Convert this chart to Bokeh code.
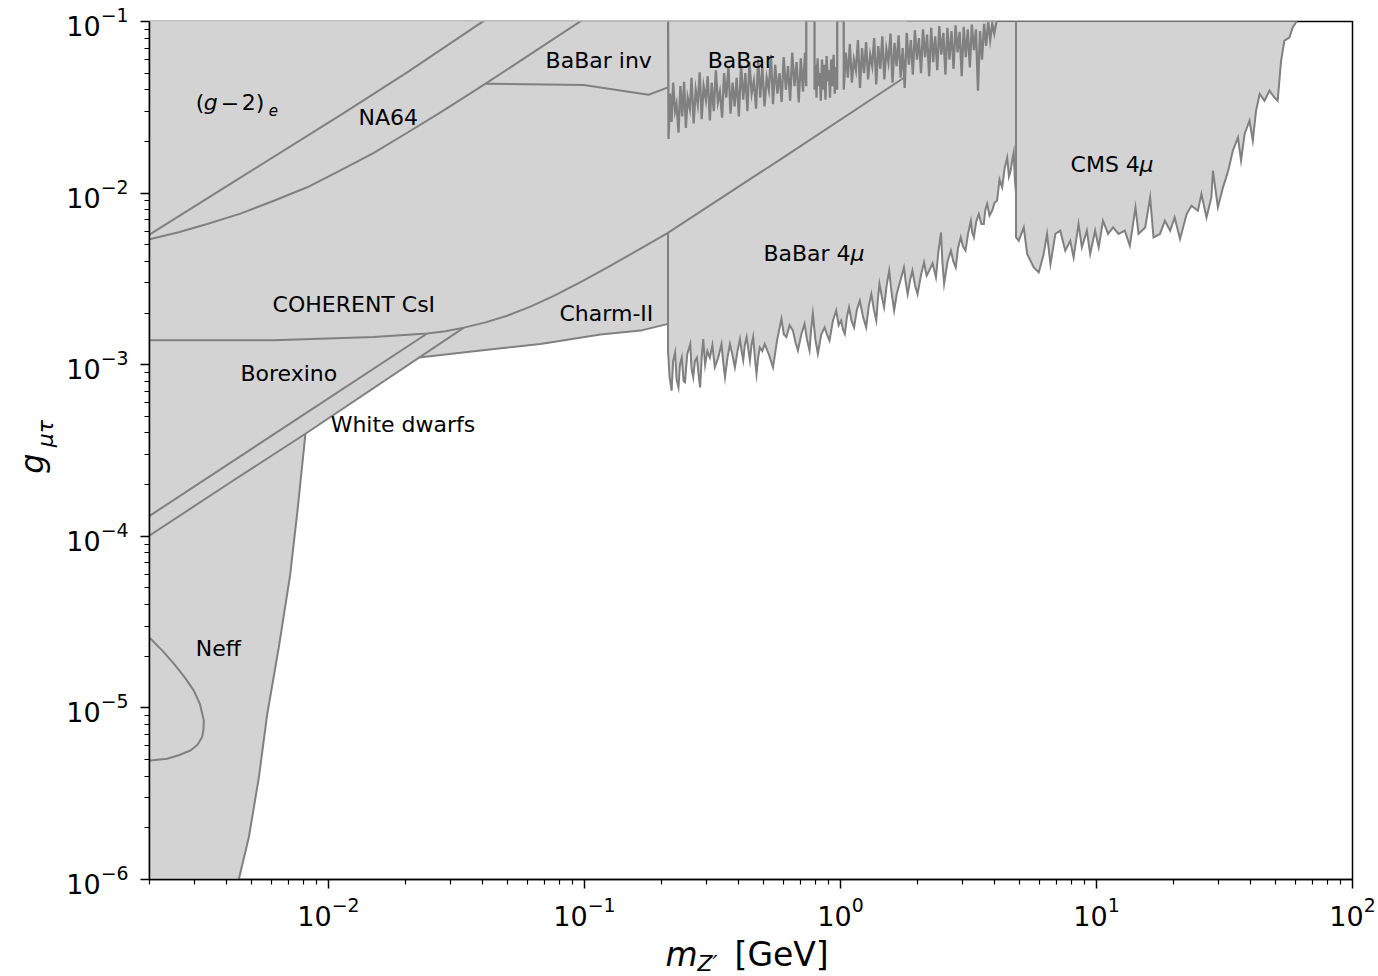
from math import pi
from bokeh.plotting import figure
from bokeh.layouts import row, column
from bokeh.models import FixedTicker, LogTickFormatter
from bokeh.embed import file_html
from bokeh.resources import INLINE
from bokeh.core.properties import value

# ---------------------------------------------------------------- data
# boundary curves: mass m_Z' [GeV] and coupling g_{mu tau}
g2e_m = [0.0019, 0.00202, 0.00453, 0.01114, 0.0203, 0.0399, 0.045]
g2e_g = [5.45e-3, 5.78e-3, 1.23e-2, 2.85e-2, 5.05e-2, 0.0996, 0.112]

na64_m = [0.0019, 0.00202, 0.0026, 0.00336, 0.00453, 0.00612, 0.00826, 0.01114, 0.01504,
          0.0203, 0.0274, 0.0370, 0.0411, 0.0635, 0.098, 0.11]
na64_g = [5.27e-3, 5.40e-3, 5.92e-3, 6.61e-3, 7.59e-3, 9.03e-3, 1.081e-2, 1.358e-2, 1.716e-2,
          2.247e-2, 2.954e-2, 3.93e-2, 4.34e-2, 6.65e-2, 0.1018, 0.113]

babar_inv_m = [0.0411, 0.0994, 0.178, 0.212]
babar_inv_g = [0.0434, 0.0426, 0.0374, 0.0413]

coherent_m = [0.0019, 0.0061, 0.0150, 0.0243, 0.02864, 0.0338, 0.0411, 0.0499, 0.0615, 0.0759,
              0.0978, 0.126, 0.163, 0.211, 0.583, 1.80]
coherent_g = [1.39e-3, 1.39e-3, 1.45e-3, 1.52e-3, 1.566e-3, 1.645e-3, 1.765e-3, 1.93e-3, 2.18e-3,
              2.52e-3, 3.06e-3, 3.77e-3, 4.68e-3, 5.85e-3, 1.574e-2, 4.78e-2]

charm_m = [0.02255, 0.0393, 0.0673, 0.1155, 0.1656, 0.212]
charm_g = [1.10e-3, 1.21e-3, 1.32e-3, 1.50e-3, 1.58e-3, 1.73e-3]

borexino_m = [0.0019, 0.0075, 0.0243]
borexino_g = [1.25e-4, 4.80e-4, 1.52e-3]

wd_diag_m = [0.0019, 0.00422, 0.00813, 0.0338]
wd_diag_g = [9.6e-5, 2.10e-4, 3.96e-4, 1.645e-3]
wd_edge_m = [0.00813, 0.00757, 0.00708, 0.00640, 0.00577, 0.00535, 0.00489, 0.00447, 0.00435]
wd_edge_g = [3.96e-4, 1.41e-4, 5.90e-5, 2.26e-5, 9.25e-6, 3.95e-6, 1.77e-6, 1.01e-6, 8.5e-7]

neff_m = [0.0019, 0.00202, 0.00225, 0.00249, 0.00275, 0.00298, 0.00315, 0.00326, 0.00325,
          0.00321, 0.00308, 0.00289, 0.00260, 0.00234, 0.00202, 0.0019]
neff_g = [2.6e-5, 2.53e-5, 2.15e-5, 1.81e-5, 1.50e-5, 1.26e-5, 1.05e-5, 8.45e-6, 7.5e-6,
          6.76e-6, 6.1e-6, 5.65e-6, 5.3e-6, 5.06e-6, 4.94e-6, 4.92e-6]

babar_pts = [
    (0.212, 0.12),
    (0.213, 0.0207), (0.216, 0.0380), (0.219, 0.0260), (0.222, 0.0440), (0.226, 0.0300),
    (0.229, 0.0330), (0.233, 0.0225), (0.237, 0.0420), (0.241, 0.0280), (0.245, 0.0445),
    (0.249, 0.0240), (0.253, 0.0360), (0.258, 0.0310), (0.262, 0.0470), (0.267, 0.0255),
    (0.272, 0.0400), (0.277, 0.0330), (0.282, 0.0505), (0.287, 0.0270), (0.292, 0.0420),
    (0.298, 0.0350), (0.303, 0.0480), (0.309, 0.0265), (0.314, 0.0440), (0.320, 0.0300),
    (0.326, 0.0520), (0.332, 0.0340), (0.338, 0.0390), (0.345, 0.0275), (0.351, 0.0500),
    (0.358, 0.0360), (0.365, 0.0545), (0.372, 0.0290), (0.379, 0.0440), (0.386, 0.0320),
    (0.393, 0.0470), (0.401, 0.0280), (0.409, 0.0560), (0.417, 0.0350), (0.425, 0.0500),
    (0.433, 0.0300), (0.441, 0.0580), (0.450, 0.0380), (0.459, 0.0450), (0.468, 0.0310),
    (0.477, 0.0600), (0.486, 0.0360), (0.495, 0.0540), (0.505, 0.0320), (0.515, 0.0470),
    (0.525, 0.0400), (0.535, 0.0640), (0.545, 0.0330), (0.556, 0.0560), (0.567, 0.0380),
    (0.578, 0.0500), (0.589, 0.0340), (0.600, 0.0620), (0.612, 0.0400), (0.624, 0.0550),
    (0.636, 0.0345), (0.648, 0.0660), (0.661, 0.0420), (0.674, 0.0580), (0.687, 0.0337),
    (0.700, 0.0610), (0.714, 0.0390), (0.727, 0.0660), (0.735, 0.0420),
    (0.735, 0.12), (0.792, 0.12),
    (0.792, 0.0400), (0.799, 0.0560), (0.806, 0.0360), (0.814, 0.0610), (0.822, 0.0420),
    (0.830, 0.0500), (0.838, 0.0345), (0.847, 0.0600), (0.856, 0.0400), (0.865, 0.0560),
    (0.874, 0.0350), (0.883, 0.0630), (0.892, 0.0450), (0.901, 0.0520), (0.910, 0.0360),
    (0.920, 0.0600), (0.930, 0.0420), (0.940, 0.0640), (0.950, 0.0380), (0.960, 0.0540),
    (0.971, 0.0400),
    (0.971, 0.12), (1.030, 0.12),
    (1.030, 0.040), (1.049, 0.066), (1.068, 0.047), (1.088, 0.074), (1.108, 0.044),
    (1.128, 0.060), (1.149, 0.052), (1.170, 0.078), (1.192, 0.041), (1.214, 0.070),
    (1.236, 0.050), (1.259, 0.076), (1.282, 0.046), (1.306, 0.064), (1.330, 0.055),
    (1.354, 0.080), (1.379, 0.043), (1.405, 0.072), (1.431, 0.053), (1.457, 0.082),
    (1.484, 0.046), (1.511, 0.069), (1.539, 0.058), (1.568, 0.085), (1.597, 0.044),
    (1.626, 0.075), (1.656, 0.055), (1.687, 0.083), (1.718, 0.047), (1.750, 0.070),
    (1.782, 0.041), (1.815, 0.086), (1.849, 0.056), (1.883, 0.078), (1.917, 0.049),
    (1.953, 0.089), (1.989, 0.060), (2.025, 0.080), (2.063, 0.050), (2.101, 0.090),
    (2.140, 0.062), (2.179, 0.084), (2.220, 0.048), (2.261, 0.092), (2.302, 0.058),
    (2.345, 0.082), (2.388, 0.052), (2.432, 0.094), (2.477, 0.064), (2.523, 0.086),
    (2.570, 0.049), (2.617, 0.092), (2.665, 0.060), (2.715, 0.088), (2.765, 0.053),
    (2.816, 0.095), (2.868, 0.066), (2.921, 0.087), (2.975, 0.048), (3.030, 0.093),
    (3.086, 0.062), (3.143, 0.090), (3.201, 0.054), (3.260, 0.096), (3.320, 0.068),
    (3.382, 0.090), (3.444, 0.0395), (3.508, 0.088), (3.573, 0.060), (3.639, 0.097),
    (3.706, 0.072), (3.775, 0.099), (3.844, 0.078), (3.916, 0.097), (3.988, 0.085),
    (4.062, 0.099), (4.17, 0.12),
]

babar4mu_pts = [
    (0.212, 5.9e-3), (0.212, 1.21e-3), (0.215, 8.5e-4), (0.219, 7.06e-4), (0.222, 1.05e-3),
    (0.226, 1.18e-3), (0.229, 8.2e-4), (0.233, 7.38e-4), (0.236, 1.0e-3), (0.240, 1.10e-3),
    (0.244, 8.0e-4), (0.247, 7.89e-4), (0.252, 1.15e-3), (0.259, 1.32e-3), (0.262, 9.5e-4),
    (0.266, 8.45e-4), (0.270, 1.05e-3), (0.275, 1.10e-3), (0.279, 8.8e-4), (0.283, 7.38e-4),
    (0.287, 1.1e-3), (0.291, 1.41e-3), (0.296, 1.0e-3), (0.302, 1.2e-3), (0.309, 1.10e-3),
    (0.316, 1.3e-3), (0.323, 9.66e-4), (0.333, 1.1e-3), (0.343, 1.32e-3), (0.348, 1.05e-3),
    (0.354, 8.45e-4), (0.362, 1.1e-3), (0.370, 1.32e-3), (0.378, 1.15e-3), (0.387, 9.66e-4),
    (0.396, 1.2e-3), (0.405, 1.41e-3), (0.411, 1.2e-3), (0.417, 1.06e-3), (0.423, 1.3e-3),
    (0.430, 1.45e-3), (0.436, 1.25e-3), (0.443, 1.06e-3), (0.449, 1.3e-3), (0.456, 1.45e-3),
    (0.463, 1.1e-3), (0.470, 8.83e-4), (0.477, 1.1e-3), (0.484, 1.26e-3), (0.495, 1.2e-3),
    (0.506, 1.32e-3), (0.525, 1.15e-3), (0.545, 9.66e-4), (0.566, 1.4e-3), (0.588, 1.85e-3),
    (0.601, 1.5e-3), (0.615, 1.45e-3), (0.633, 1.7e-3), (0.652, 1.58e-3), (0.667, 1.35e-3),
    (0.682, 1.21e-3), (0.703, 1.5e-3), (0.724, 1.73e-3), (0.740, 1.4e-3), (0.757, 1.21e-3),
    (0.768, 1.6e-3), (0.780, 1.98e-3), (0.798, 1.4e-3), (0.816, 1.16e-3), (0.841, 1.5e-3),
    (0.867, 1.65e-3), (0.886, 1.5e-3), (0.906, 1.38e-3), (0.934, 1.8e-3), (0.962, 2.07e-3),
    (0.984, 1.7e-3), (1.006, 1.81e-3), (1.023, 1.6e-3), (1.04, 1.51e-3), (1.06, 1.9e-3),
    (1.08, 2.16e-3), (1.105, 1.8e-3), (1.13, 1.65e-3), (1.16, 2.1e-3), (1.19, 2.36e-3),
    (1.225, 1.9e-3), (1.26, 1.65e-3), (1.29, 2.2e-3), (1.32, 2.58e-3), (1.35, 2.1e-3),
    (1.38, 1.81e-3), (1.40, 2.4e-3), (1.42, 2.96e-3), (1.45, 2.5e-3), (1.48, 2.16e-3),
    (1.515, 2.9e-3), (1.55, 3.53e-3), (1.585, 2.6e-3), (1.62, 2.07e-3), (1.66, 2.6e-3),
    (1.70, 2.96e-3), (1.735, 3.3e-3), (1.77, 3.69e-3), (1.80, 3.0e-3), (1.83, 2.58e-3),
    (1.87, 3.1e-3), (1.91, 3.53e-3), (1.955, 2.9e-3), (2.00, 2.58e-3), (2.06, 3.3e-3),
    (2.12, 3.94e-3), (2.17, 3.3e-3), (2.22, 3.53e-3), (2.29, 3.9e-3), (2.36, 3.23e-3),
    (2.41, 4.5e-3), (2.47, 5.90e-3), (2.50, 4.0e-3), (2.54, 2.96e-3), (2.62, 4.0e-3),
    (2.70, 4.62e-3), (2.76, 4.0e-3), (2.82, 3.69e-3), (2.88, 4.8e-3), (2.95, 5.52e-3),
    (3.01, 4.9e-3), (3.08, 4.62e-3), (3.15, 5.8e-3), (3.23, 6.90e-3), (3.27, 5.9e-3),
    (3.32, 5.52e-3), (3.39, 6.8e-3), (3.47, 7.55e-3), (3.55, 6.6e-3), (3.63, 6.61e-3),
    (3.68, 8.0e-3), (3.74, 8.65e-3), (3.82, 7.4e-3), (3.91, 7.89e-3), (4.00, 8.8e-3),
    (4.09, 9.03e-3), (4.18, 1.2e-2), (4.28, 1.08e-2), (4.38, 1.4e-2), (4.48, 1.61e-2),
    (4.55, 1.25e-2), (4.62, 1.35e-2), (4.70, 1.6e-2), (4.75, 1.73e-2), (4.80, 1.2e-2),
    (4.85, 9.88e-3),
]

cms_pts = [
    (4.85, 0.12), (4.85, 5.52e-3), (4.97, 5.28e-3), (5.20, 6.31e-3), (5.36, 4.42e-3),
    (5.69, 3.69e-3), (5.95, 3.45e-3), (6.22, 4.42e-3), (6.41, 5.78e-3), (6.61, 3.86e-3),
    (6.91, 5.78e-3), (7.22, 6.04e-3), (7.55, 4.62e-3), (7.90, 5.28e-3), (8.14, 4.22e-3),
    (8.51, 6.61e-3), (8.77, 4.83e-3), (9.17, 6.04e-3), (9.45, 4.42e-3), (9.88, 6.04e-3),
    (10.2, 4.83e-3), (10.6, 6.90e-3), (11.1, 5.78e-3), (11.6, 6.31e-3), (12.2, 5.78e-3),
    (12.9, 6.04e-3), (13.5, 4.94e-3), (14.2, 8.26e-3), (14.6, 5.78e-3), (15.5, 6.31e-3),
    (16.2, 9.44e-3), (16.7, 5.52e-3), (17.7, 5.78e-3), (18.5, 6.90e-3), (19.4, 6.04e-3),
    (20.2, 7.21e-3), (21.2, 5.40e-3), (22.5, 7.55e-3), (23.5, 8.45e-3), (24.9, 7.89e-3),
    (25.7, 9.88e-3), (26.9, 7.21e-3), (28.1, 9.44e-3), (28.5, 1.35e-2), (29.8, 8.26e-3),
    (31.2, 1.08e-2), (32.7, 1.35e-2), (34.1, 1.77e-2), (35.7, 2.11e-2), (36.7, 1.55e-2),
    (37.9, 2.21e-2), (39.6, 2.64e-2), (40.8, 2.02e-2), (42.0, 3.02e-2), (43.4, 3.78e-2),
    (45.3, 3.45e-2), (47.4, 3.95e-2), (49.5, 3.61e-2), (51.0, 3.45e-2), (52.6, 5.90e-2),
    (54.2, 7.73e-2), (56.7, 8.07e-2), (58.4, 9.23e-2), (60.1, 9.86e-2), (63.8, 0.12),
]

x_ticks = [1e-2, 1e-1, 1e0, 1e1, 1e2]
y_ticks = [1e-6, 1e-5, 1e-4, 1e-3, 1e-2, 1e-1]

# region labels: text, mass, coupling (left edge / vertical centre)
label_text = ["NA64", "BaBar inv", "BaBar", "COHERENT CsI", "Charm-II", "Borexino",
              "White dwarfs", "Neff", "BaBar 4", "CMS 4"]
label_m = [0.0131, 0.0705, 0.303, 0.00605, 0.0799, 0.00453, 0.0102, 0.00303, 0.500, 7.92]
label_g = [0.0277, 0.0590, 0.0590, 2.24e-3, 1.98e-3, 8.87e-4, 4.47e-4, 2.22e-5, 4.43e-3, 1.46e-2]

# ---------------------------------------------------------------- layout constants
W, H = 1378, 976
LEFT_STRIP = 60      # strip holding the y-axis title
BOTTOM_STRIP = 42    # strip holding the x-axis title
BORDER_L = 149 - LEFT_STRIP
BORDER_R = 26
BORDER_T = 21
BORDER_B = (H - BOTTOM_STRIP) - 879
FILL = "#d3d3d3"
EDGE = "#808080"
FONT = "DejaVu Sans"

p = figure(width=W - LEFT_STRIP, height=H - BOTTOM_STRIP, x_axis_type="log", y_axis_type="log",
           x_range=(0.002, 100), y_range=(1e-6, 0.1), title=None,
           output_backend="svg", toolbar_location=None,
           min_border_left=BORDER_L, min_border_right=BORDER_R, min_border_top=BORDER_T,
           min_border_bottom=BORDER_B)
p.xgrid.visible = False
p.ygrid.visible = False
p.background_fill_color = "white"
p.border_fill_color = "white"
p.outline_line_color = "black"
p.outline_line_width = 1.5
p.outline_line_alpha = 1.0


def unzip(pts):
    return [a for a, b in pts], [b for a, b in pts]


babar_m, babar_g = unzip(babar_pts)
babar4mu_m, babar4mu_g = unzip(babar4mu_pts)
cms_m, cms_g = unzip(cms_pts)


def above(m, g, top=1.0):
    return list(m) + [m[-1], m[0]], list(g) + [top, top]


fills = [above(g2e_m, g2e_g), above(na64_m, na64_g), above(babar_inv_m, babar_inv_g),
         above(babar_m, babar_g), above(coherent_m, coherent_g), above(charm_m, charm_g),
         above(borexino_m, borexino_g), above(babar4mu_m, babar4mu_g), above(cms_m, cms_g)]
# white dwarfs: left of the steep edge and above the diagonal
wd_x = [wd_diag_m[0]] + wd_edge_m[::-1] + wd_diag_m[3:] + [wd_diag_m[-1], wd_diag_m[0]]
wd_y = [wd_edge_g[-1]] + wd_edge_g[::-1] + wd_diag_g[3:] + [1.0, 1.0]
fills.append((wd_x, wd_y))
fills.append((neff_m, neff_g))

for fx, fy in fills:
    p.patch(fx, fy, fill_color=FILL, line_color=FILL, line_width=1)

curves = [(g2e_m, g2e_g), (na64_m, na64_g), (babar_inv_m, babar_inv_g), (coherent_m, coherent_g),
          (charm_m, charm_g), (borexino_m, borexino_g), (wd_diag_m, wd_diag_g),
          (wd_edge_m, wd_edge_g), (neff_m, neff_g)]
for cx, cy in curves:
    p.line(cx, cy, line_color=EDGE, line_width=2.0)
for cx, cy in [(babar4mu_m, babar4mu_g), (cms_m, cms_g)]:
    p.line(cx, cy, line_color=EDGE, line_width=2.0, line_join="miter")
p.line(babar_m, babar_g, line_color=EDGE, line_width=2.3, line_join="miter")

# region labels
p.text(x=label_m, y=label_g, text=label_text, text_font=value(FONT), text_font_size="22px",
       text_color="black", text_align="left", text_baseline="middle")
# italic mu after "BaBar 4" and "CMS 4"
p.text(x=[label_m[8], label_m[9]], y=[label_g[8], label_g[9]], text=["μ", "μ"],
       x_offset=[87, 69], text_font=value(FONT), text_font_size="22px", text_font_style="italic",
       text_color="black", text_align="left", text_baseline="middle")
# (g - 2)_e
g2_m, g2_g = 0.00303, 0.0336
p.text(x=[g2_m, g2_m, g2_m], y=[g2_g, g2_g, g2_g], text=["(", "−", "2)"], x_offset=[0, 25, 46],
       text_font=value(FONT), text_font_size="22px", text_color="black",
       text_align="left", text_baseline="middle")
p.text(x=[g2_m], y=[g2_g], text=["g"], x_offset=[8], text_font=value(FONT),
       text_font_size="22px", text_font_style="italic", text_color="black",
       text_align="left", text_baseline="middle")
p.text(x=[g2_m], y=[g2_g], text=["e"], x_offset=[73], y_offset=[7], text_font=value(FONT),
       text_font_size="15px", text_font_style="italic", text_color="black",
       text_align="left", text_baseline="middle")

# axes
p.xaxis.ticker = FixedTicker(ticks=x_ticks,
                             minor_ticks=[k * 10.0 ** e for e in range(-3, 2) for k in range(2, 10)])
p.yaxis.ticker = FixedTicker(ticks=y_ticks,
                             minor_ticks=[k * 10.0 ** e for e in range(-6, -1) for k in range(2, 10)])
for ax in (p.xaxis, p.yaxis):
    ax.formatter = LogTickFormatter()
    ax.axis_line_color = "black"
    ax.axis_line_width = 1.5
    ax.major_tick_line_color = "black"
    ax.major_tick_line_width = 1.5
    ax.minor_tick_line_color = "black"
    ax.minor_tick_line_width = 1.2
    ax.major_tick_in = 0
    ax.major_tick_out = 9
    ax.minor_tick_in = 0
    ax.minor_tick_out = 5
    ax.major_label_text_font = FONT
    ax.major_label_text_font_size = "27px"
    ax.major_label_text_color = "black"
p.xaxis.major_label_standoff = 8
p.yaxis.major_label_standoff = 12


# ---------------------------------------------------------------- axis-title strips
def strip(w, h, **kw):
    s = figure(width=w, height=h, title=None, output_backend="svg", toolbar_location=None,
               x_axis_location=None, y_axis_location=None, **kw)
    s.xgrid.visible = False
    s.ygrid.visible = False
    s.outline_line_color = None
    s.background_fill_color = "white"
    s.border_fill_color = "white"
    return s


# y title strip shares the main vertical scale (same top/bottom borders)
ys = strip(LEFT_STRIP, H - BOTTOM_STRIP, x_range=(0, LEFT_STRIP), y_range=p.y_range,
           y_axis_type="log", min_border_left=0, min_border_right=0,
           min_border_top=BORDER_T, min_border_bottom=BORDER_B)
ys.text(x=[31], y=[2.65e-4], text=["g"], angle=pi / 2,
        text_font=value(FONT), text_font_size="32px", text_font_style="italic",
        text_color="black", text_align="center", text_baseline="middle")
ys.text(x=[45], y=[3.96e-4], text=["μτ"], angle=pi / 2,
        text_font=value(FONT), text_font_size="22px", text_font_style="italic",
        text_color="black", text_align="center", text_baseline="middle")

# x title strip shares the main horizontal scale (same left/right borders)
xs = strip(W - LEFT_STRIP, BOTTOM_STRIP, x_range=p.x_range, y_range=(0, BOTTOM_STRIP),
           x_axis_type="log", min_border_left=BORDER_L, min_border_right=BORDER_R,
           min_border_top=0, min_border_bottom=0)
xs.text(x=[0.2073], y=[22], text=["m"], text_font=value(FONT), text_font_size="33px",
        text_font_style="italic", text_color="black", text_align="left",
        text_baseline="middle")
xs.text(x=[0.2765], y=[13], text=["Z′"], text_font=value(FONT), text_font_size="22px",
        text_font_style="italic", text_color="black", text_align="left",
        text_baseline="middle")
xs.text(x=[0.3857], y=[22], text=["[GeV]"], text_font=value(FONT), text_font_size="33px",
        text_color="black", text_align="left", text_baseline="middle")

layout = row(ys, column(p, xs, spacing=0), spacing=0)
open("out.html", "w").write(file_html(layout, INLINE))
